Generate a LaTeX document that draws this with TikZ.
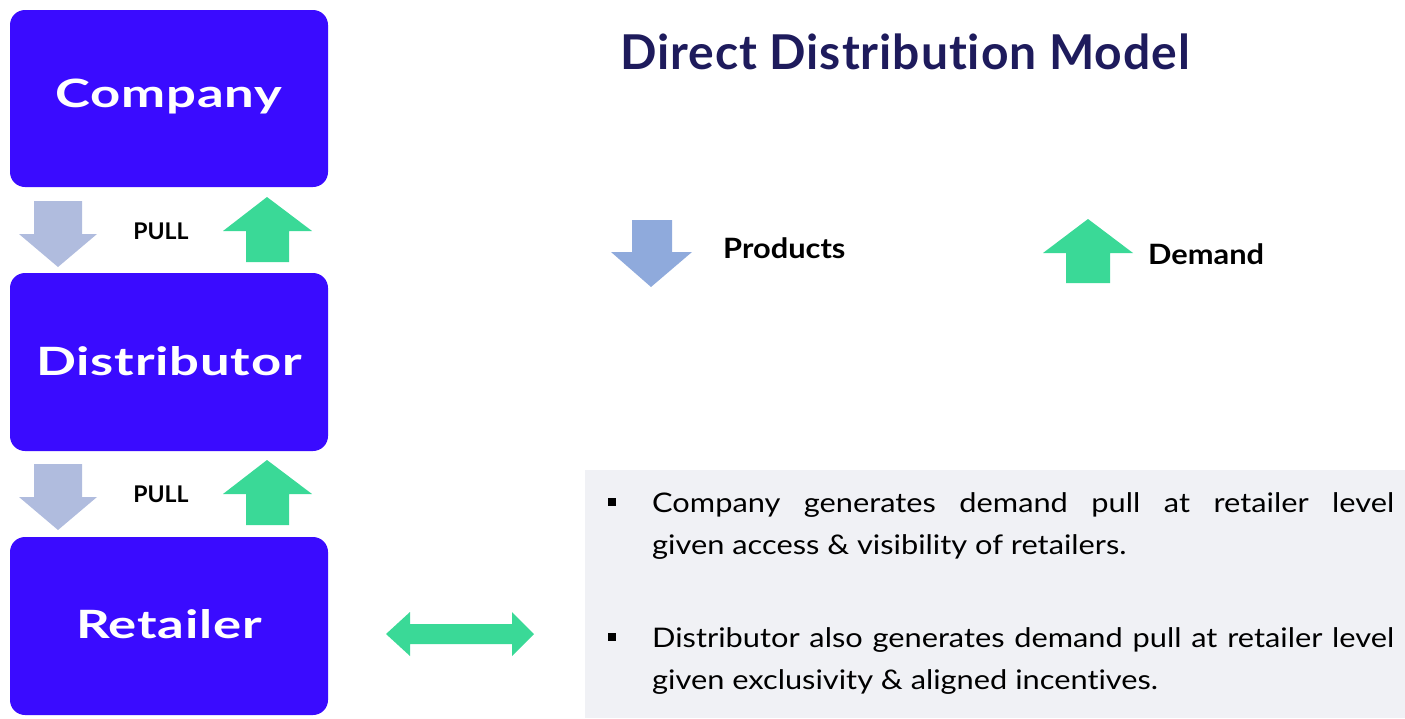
\documentclass[tikz,border=0pt]{standalone}
\usepackage{fontspec}
\setmainfont{Lato}[Ligatures=NoCommon]
\newfontfamily\stagefont{Lato Bold}[FakeStretch=1.35, LetterSpace=2, Ligatures=NoCommon]
\newfontfamily\titlefont{Lato Bold}[LetterSpace=2, Ligatures=NoCommon]
\newfontfamily\keyfont{Lato Bold}[FakeStretch=1.1, Ligatures=NoCommon]
\newfontfamily\bodyfont{Lato}[FakeStretch=1.14, Ligatures=NoCommon]
\begin{document}
\begin{tikzpicture}[x=1pt,y=-1pt,
  stage/.style={fill=stageblue, rounded corners=15pt},
  stagelabel/.style={text=white, anchor=base, inner sep=0pt, font=\stagefont\fontsize{39}{44}\selectfont},
  pulllabel/.style={anchor=base, inner sep=0pt, font=\bfseries\fontsize{23}{26}\selectfont},
  keylabel/.style={anchor=base west, inner sep=0pt, font=\keyfont\fontsize{28}{32}\selectfont},
  bullettext/.style={anchor=north west, text width=742pt, inner sep=0pt, align=justify,
     font=\bodyfont\fontsize{27}{42}\selectfont},
  sqbullet/.style={fill=black, minimum size=8pt, inner sep=0pt}
]
\definecolor{stageblue}{HTML}{3A0BFF}
\definecolor{prodblue}{HTML}{B0BCDE}
\definecolor{keyblue}{HTML}{8FAADC}
\definecolor{demandgreen}{HTML}{3AD997}
\definecolor{titlenavy}{HTML}{1E1B5C}
\definecolor{panelgray}{HTML}{F0F1F5}

\useasboundingbox (0,0) rectangle (1405,718);

% stages of the chain
\fill[stage] (10,10) rectangle (328,187);
\node[stagelabel] (company) at (169,107) {Company};
\fill[stage] (10,273) rectangle (328,451);
\node[stagelabel] (distributor) at (169,375) {Distributor};
\fill[stage] (10,537) rectangle (328,715);
\node[stagelabel] (retailer) at (169,638) {Retailer};

% product flow (down) and demand pull (up) between stages
\fill[prodblue] (34,201) -- (82,201) -- (82,234) -- (97,234) -- (58,267) -- (19,234) -- (34,234) -- cycle;
\fill[demandgreen] (246,262) -- (289,262) -- (289,231) -- (312,231) -- (267,197) -- (223,231) -- (246,231) -- cycle;
\node[pulllabel] (pull1) at (161,239) {PULL};

\fill[prodblue] (34,464) -- (82,464) -- (82,497) -- (97,497) -- (58,530) -- (19,497) -- (34,497) -- cycle;
\fill[demandgreen] (246,525) -- (289,525) -- (289,494) -- (312,494) -- (267,460) -- (223,494) -- (246,494) -- cycle;
\node[pulllabel] (pull2) at (161,502) {PULL};

% title
\node[text=titlenavy, anchor=base west, inner sep=0pt, font=\titlefont\fontsize{48}{54}\selectfont] (title) at (620,69) {Direct Distribution Model};

% key
\fill[keyblue] (632,220) -- (672,220) -- (672,252) -- (692,252) -- (651,287) -- (611,252) -- (632,252) -- cycle;
\node[keylabel] (products) at (723,258) {Products};
\fill[demandgreen] (1066,283) -- (1110,283) -- (1110,253) -- (1133,253) -- (1088,219) -- (1043,253) -- (1066,253) -- cycle;
\node[keylabel] (demand) at (1148,264) {Demand};

% retailer-level interaction panel
\fill[panelgray] (585,470) rectangle (1405,718);
\fill[demandgreen] (386,634) -- (410,612) -- (410,624) -- (512,624) -- (512,612) -- (534,634) -- (512,656) -- (512,644) -- (410,644) -- (410,656) -- cycle;

\node[sqbullet] (b1) at (611.5,502) {};
\node[bullettext] (t1) at (652,492) {Company generates demand pull at retailer level\linebreak given access \& visibility of retailers.};
\node[sqbullet] (b2) at (611.5,637) {};
\node[bullettext] (t2) at (652,627) {Distributor also generates demand pull at retailer level\linebreak given exclusivity \& aligned incentives.};
\end{tikzpicture}
\end{document}
